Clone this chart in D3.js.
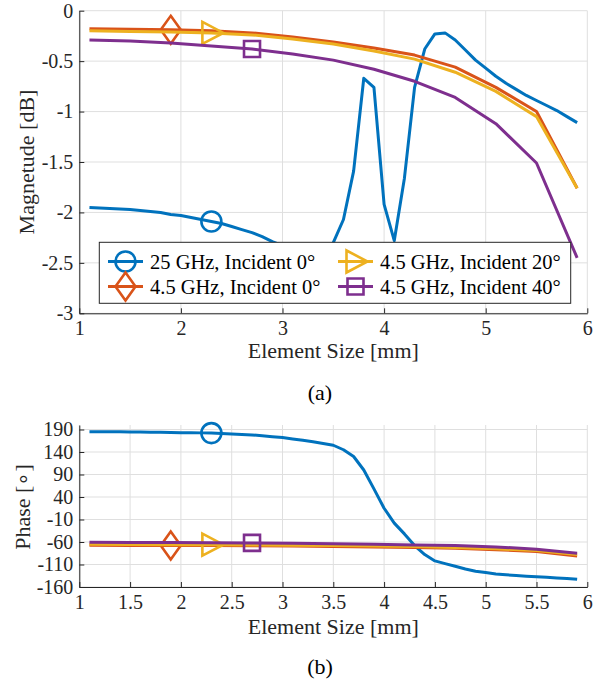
<!DOCTYPE html>
<html><head><meta charset="utf-8">
<script src="https://cdn.jsdelivr.net/npm/d3@7"></script>
<style>
body{margin:0;background:#fff;}
</style></head>
<body><svg id="c" width="607" height="686" style="display:block"></svg>
<script>
// ---------- data ----------
const xFine = [1.1,1.2,1.3,1.4,1.5,1.6,1.7,1.8,1.9,2.0,2.1,2.2,2.3,2.4,2.5,2.6,2.7,2.8,2.9,3.0,3.1,3.2,3.3,3.4,3.5,3.6,3.7,3.8,3.9,4.0,4.1,4.2,4.3,4.4,4.5,4.6,4.7,4.8,4.9,5.0,5.1,5.2,5.3,5.4,5.5,5.6,5.7,5.8,5.9];
const xCoarse = [1.1,1.5,1.9,2.3,2.7,3.1,3.5,3.9,4.3,4.7,5.1,5.5,5.9];

const magBlue = [-1.95,-1.955,-1.96,-1.965,-1.97,-1.98,-1.99,-2.0,-2.02,-2.03,-2.05,-2.07,-2.09,-2.11,-2.14,-2.17,-2.2,-2.24,-2.29,-2.33,-2.37,-2.41,-2.44,-2.42,-2.3,-2.07,-1.59,-0.67,-0.76,-1.92,-2.28,-1.66,-0.76,-0.38,-0.23,-0.22,-0.29,-0.39,-0.49,-0.57,-0.65,-0.72,-0.78,-0.84,-0.89,-0.94,-0.99,-1.05,-1.11];
const magOrange = [-0.18,-0.185,-0.19,-0.2,-0.22,-0.26,-0.31,-0.37,-0.44,-0.56,-0.76,-1.0,-1.76];
const magYellow = [-0.2,-0.205,-0.21,-0.22,-0.24,-0.28,-0.33,-0.4,-0.48,-0.61,-0.8,-1.05,-1.76];
const magPurple = [-0.29,-0.3,-0.32,-0.35,-0.38,-0.43,-0.49,-0.58,-0.7,-0.86,-1.12,-1.51,-2.45];

const phBlue = [185,185,185,185,184.5,184.5,184,184,183.5,183,183,182.5,182,181,180,179,178,176,174,172,169,166,163,159,155,145,130,100,58,15,-18,-42,-68,-88,-102,-108,-114,-120,-125,-128,-131,-133,-134.5,-136,-137,-138.5,-140,-141,-143];
const phOrange = [-67,-67.5,-68,-68,-68.5,-69,-70,-71,-72,-74,-77,-81,-91];
const phYellow = [-65,-65.5,-66,-66,-66.5,-67,-68,-69,-70,-72,-75,-79,-88];
const phPurple = [-60.5,-61,-61,-61.5,-62,-63,-64,-65,-66.5,-68,-71,-76,-85];

const seriesNames = ["25 GHz, Incident 0°","4.5 GHz, Incident 0°","4.5 GHz, Incident 20°","4.5 GHz, Incident 40°"];
const seriesColors = ["#0072BD","#D95319","#EDB120","#7E2F8E"];
const seriesMarkers = ["circle","diamond","triangle","square"];
const markerX = [2.3,1.9,2.3,2.7];

const magTicksY = [0,-0.5,-1,-1.5,-2,-2.5,-3];
const magTickLabels = ["0","-0.5","-1","-1.5","-2","-2.5","-3"];
const magTicksX = [1,2,3,4,5,6];
const phTicksY = [190,140,90,40,-10,-60,-110,-160];
const phTicksX = [1,1.5,2,2.5,3,3.5,4,4.5,5,5.5,6];

// ---------- drawing ----------
const svg = d3.select("#c");
const AX = "#262626", GRID = "#dfdfdf";
const FONT = '"Liberation Serif", "Times New Roman", serif';

function markerPath(type){
  if(type==="circle") return "M-10,0A10,10 0 1,1 10,0A10,10 0 1,1 -10,0Z";
  if(type==="diamond") return "M0,-14L10,0L0,14L-10,0Z";
  if(type==="triangle") return "M-9,-11L12,0L-9,11Z";
  return "M-8,-8L8,-8L8,8L-8,8Z";
}

function panel(cfg){
  const g = svg.append("g");
  const x = d3.scaleLinear().domain([1,6]).range([cfg.left,cfg.right]);
  const y = d3.scaleLinear().domain(cfg.yDomain).range([cfg.bottom,cfg.top]);
  g.selectAll(".gx").data(cfg.xTicks).join("line")
    .attr("x1",d=>x(d)).attr("x2",d=>x(d)).attr("y1",cfg.top).attr("y2",cfg.bottom)
    .attr("stroke",GRID).attr("stroke-width",1);
  g.selectAll(".gy").data(cfg.yTicks).join("line")
    .attr("x1",cfg.left).attr("x2",cfg.right).attr("y1",d=>y(d)).attr("y2",d=>y(d))
    .attr("stroke",GRID).attr("stroke-width",1);
  const xa = g.append("g").attr("transform",`translate(0,${cfg.bottom})`)
    .call(d3.axisBottom(x).tickValues(cfg.xTicks).tickSizeInner(-5).tickSizeOuter(0).tickPadding(8).tickFormat(d3.format("")));
  const ya = g.append("g").attr("transform",`translate(${cfg.left},0)`)
    .call(d3.axisLeft(y).tickValues(cfg.yTicks).tickSizeInner(-5).tickSizeOuter(0).tickPadding(6)
      .tickFormat((d,i)=>cfg.yLabels ? cfg.yLabels[i] : String(d)));
  [xa,ya].forEach(a=>{
    a.attr("font-family",null).attr("font-size",null);
    a.select(".domain").attr("stroke",AX).attr("stroke-width",1);
    a.selectAll(".tick line").attr("stroke",AX);
    a.selectAll("text").attr("fill","#262626").style("font-size","20px");
  });
  xa.selectAll("text").attr("dy","0.71em");
  ya.selectAll("text").text(function(){return this.textContent.replace("−","-");});
  const line = d3.line().x(d=>x(d[0])).y(d=>y(d[1]));
  cfg.series.forEach((s,i)=>{
    const pts = s.xs.map((xv,k)=>[xv,s.ys[k]]);
    g.append("path").attr("d",line(pts)).attr("fill","none")
      .attr("stroke",seriesColors[i]).attr("stroke-width",3).attr("stroke-linejoin","round");
    const mi = s.xs.indexOf(markerX[i]);
    g.append("path").attr("d",markerPath(seriesMarkers[i]))
      .attr("transform",`translate(${x(s.xs[mi])},${y(s.ys[mi])})`)
      .attr("fill","none").attr("stroke",seriesColors[i]).attr("stroke-width",2.6);
  });
  g.append("text").attr("x",(cfg.left+cfg.right)/2).attr("y",cfg.xLabelY)
    .attr("text-anchor","middle").attr("fill","#262626").style("font-size","22px").text("Element Size [mm]");
  g.append("text").attr("transform",`translate(${cfg.yLabelX},${cfg.yLabelMid}) rotate(-90)`)
    .attr("text-anchor","middle").attr("fill","#262626").style("font-size","22px").text(cfg.yLabel);
  g.append("text").attr("x",320).attr("y",cfg.capY).attr("text-anchor","middle")
    .attr("fill","#000").style("font-size","22px").text(cfg.cap);
  return {g,x,y};
}

const panelA = panel({left:79.3,right:587.3,top:10.7,bottom:313.3,yDomain:[-3,0],
  xTicks:magTicksX,yTicks:magTicksY,yLabels:magTickLabels,
  series:[{xs:xFine,ys:magBlue},{xs:xCoarse,ys:magOrange},{xs:xCoarse,ys:magYellow},{xs:xCoarse,ys:magPurple}],
  xLabelY:358,yLabel:"Magnetude [dB]",yLabelX:34,yLabelMid:162,cap:"(a)",capY:400});

const panelB = panel({left:79.3,right:587.3,top:425,bottom:587,yDomain:[-160,200],
  xTicks:phTicksX,yTicks:phTicksY,
  series:[{xs:xFine,ys:phBlue},{xs:xCoarse,ys:phOrange},{xs:xCoarse,ys:phYellow},{xs:xCoarse,ys:phPurple}],
  xLabelY:634,yLabel:"Phase [∘]",yLabelX:30,yLabelMid:507,cap:"(b)",capY:674});

// ---------- legend ----------
const lg = svg.append("g");
lg.append("rect").attr("x",99.3).attr("y",242.3).attr("width",471.4).attr("height",61)
  .attr("fill","#fff").attr("stroke",AX).attr("stroke-width",1);
const colX = [108,338], rowY = [261.5,286.5];
seriesNames.forEach((name,i)=>{
  const cx = colX[i<2?0:1], cy = rowY[i%2];
  lg.append("line").attr("x1",cx).attr("x2",cx+35).attr("y1",cy).attr("y2",cy)
    .attr("stroke",seriesColors[i]).attr("stroke-width",3);
  lg.append("path").attr("d",markerPath(seriesMarkers[i]))
    .attr("transform",`translate(${cx+17.5},${cy})`)
    .attr("fill","none").attr("stroke",seriesColors[i]).attr("stroke-width",2.6);
  lg.append("text").attr("x",cx+42).attr("y",cy).attr("dy","0.35em")
    .attr("fill","#000").style("font-size","20.5px").text(name);
});

svg.selectAll("text").style("font-family",FONT);
</script></body></html>
